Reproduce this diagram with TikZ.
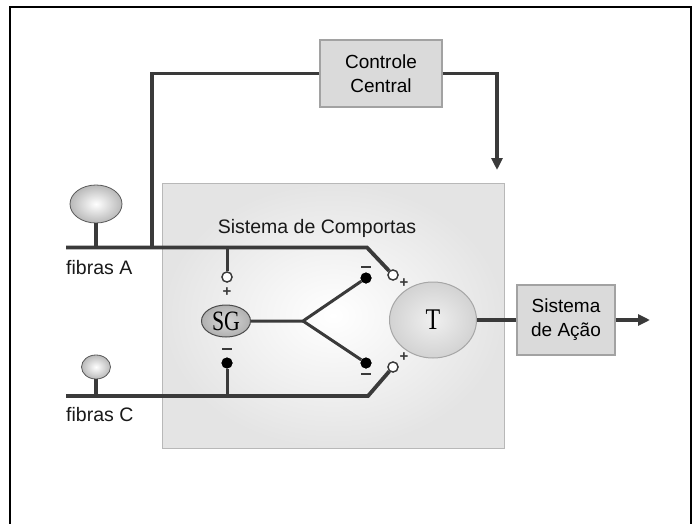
\documentclass[tikz,border=0pt]{standalone}
\usepackage{fontspec}
\setmainfont{Liberation Sans}
\newfontfamily\serifnames{Liberation Serif}
\usetikzlibrary{shapes.geometric,arrows.meta}
\definecolor{wire}{HTML}{3A3A3A}
\definecolor{boxfill}{HTML}{DADADA}
\definecolor{boxline}{HTML}{A2A2A2}
\definecolor{gatefill}{HTML}{E4E4E4}
\definecolor{gateline}{HTML}{B8B8B8}
\tikzset{
  wireline/.style={draw=wire, line width=3.8pt},
  thinwire/.style={draw=wire, line width=3pt},
  graybox/.style={rectangle, draw=boxline, line width=1.2pt, fill=boxfill, align=center,
     font=\fontsize{19}{23}\selectfont, inner sep=0pt},
  bulb/.style={ellipse, draw=gray!70!black, line width=0.8pt, inner color=white, outer color=gray!55, inner sep=0pt},
  opencirc/.style={circle, draw=wire, line width=1.3pt, fill=white, minimum size=10pt, inner sep=0pt},
  dotcirc/.style={circle, fill=black, minimum size=11pt, inner sep=0pt},
  sign/.style={font=\fontsize{15}{15}\selectfont\bfseries, text=wire, inner sep=0pt},
  lbl/.style={font=\fontsize{19.5}{23}\selectfont, text=black!90, inner sep=0pt},
  arr/.style={-{Triangle[length=12pt,width=11pt]}}
}
\begin{document}
\begin{tikzpicture}[x=1pt,y=-1pt]
\useasboundingbox (0,0) rectangle (698,524);
\fill[white] (0,0) rectangle (698,524);
% outer frame
\draw[line width=1.5pt, black] (10,524) -- (10,7) -- (691,7) -- (691,524);
% gate box
\node[rectangle, draw=gateline, line width=1pt, inner color=white, outer color=gatefill,
      minimum width=342pt, minimum height=265pt, inner sep=0pt] (gate) at (333,315.5) {};
\node[lbl] (gatelbl) at (317,228) {Sistema de Comportas};
% central control
\node[graybox, minimum width=122pt, minimum height=67pt] (cc) at (381,73.5) {Controle\\[1pt]Central};
% action system
\node[graybox, minimum width=98pt, minimum height=70pt] (sa) at (566,320) {Sistema\\[1pt]de Ação};
% fibre bulbs
\node[bulb, minimum width=52pt, minimum height=38pt] (fA) at (96,204) {};
\node[bulb, minimum width=29pt, minimum height=24pt] (fC) at (96,367) {};
\node[lbl, anchor=west] (fAl) at (66,268) {fibras A};
\node[lbl, anchor=west] (fCl) at (66,415) {fibras C};
% SG and T
\node[ellipse, draw=gray!60!black, line width=1pt, inner color=gray!30, outer color=gray!62,
      minimum width=49pt, minimum height=32pt, inner sep=0pt,
      font=\serifnames\fontsize{28}{28}\selectfont] (sg) at (226,321) {\scalebox{0.78}[1]{SG}};
\node[ellipse, draw=gray!70, line width=1pt, inner color=gray!12, outer color=gray!35,
      minimum width=87pt, minimum height=76pt, inner sep=0pt,
      font=\serifnames\fontsize{30}{30}\selectfont] (t) at (433,320) {\scalebox{0.8}[1]{T}};
% coordinates
\coordinate (aL) at (66,247.5);
\coordinate (aK) at (367,247.5);
\coordinate (aS) at (96,247.5);
\coordinate (aV) at (152,247.5);
\coordinate (aB) at (227,247.5);
\coordinate (cL) at (66,396);
\coordinate (cK) at (368,396);
\coordinate (cS) at (96,396);
\coordinate (cB) at (227,396);
\coordinate (ccL) at (152,73.5);
\coordinate (ccR) at (497,73.5);
\coordinate (ccT) at (497,170);
\coordinate (j) at (303,321);
\coordinate (out) at (650,320);
% terminals
\node[opencirc] (wA) at (227,277) {};
\node[opencirc] (wB) at (393,275) {};
\node[opencirc] (wC) at (393,367) {};
\node[dotcirc] (bS) at (227,363) {};
\node[dotcirc] (bU) at (366,278) {};
\node[dotcirc] (bL) at (366,363) {};
% wires
\draw[wireline] (aL) -- (aK) -- (wB);
\draw[wireline] (cL) -- (cK) -- (wC);
\draw[wireline] (fA.south) -- (aS);
\draw[wireline] (fC.south) -- (cS);
\draw[wireline] (cc.west) -- (ccL) -- (aV);
\draw[wireline, arr] (cc.east) -- (ccR) -- (ccT);
\draw[thinwire] (aB) -- (wA.north);
\draw[thinwire] (bS.south) -- (cB);
\draw[thinwire] (sg.east) -- (j) -- (bU);
\draw[thinwire] (j) -- (bL);
\draw[wireline] (t.east) -- (sa.west);
\draw[wireline, arr] (sa.east) -- (out);
% redraw terminals on top
\node[opencirc] at (wA) {};
\node[opencirc] at (wB) {};
\node[opencirc] at (wC) {};
\node[dotcirc] at (bS) {};
\node[dotcirc] at (bU) {};
\node[dotcirc] at (bL) {};
% signs
\node[sign] (pA) at (227,292) {+};
\node[sign] (mS) at (227,349) {\rule{10pt}{2.2pt}};
\node[sign] (mU) at (366,267) {\rule{10pt}{2.2pt}};
\node[sign] (mL) at (366,374) {\rule{10pt}{2.2pt}};
\node[sign] (pU) at (404,283) {+};
\node[sign] (pL) at (404,357) {+};
\end{tikzpicture}
\end{document}
